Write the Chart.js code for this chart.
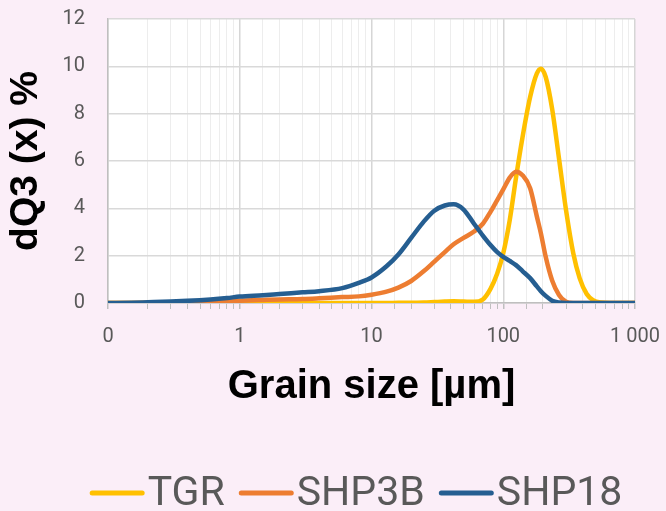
<!DOCTYPE html>
<html lang="en">
<head>
    <meta charset="UTF-8">
    <title>dQ3 grain size distribution</title>
    <script src="https://cdn.jsdelivr.net/npm/chart.js"></script>
    <style>
        html, body { margin: 0; padding: 0; background: #fbeef8; }
        canvas { display: block; }
    </style>
</head>
<body>
    <canvas id="psdChart" width="666" height="511"></canvas>
    <script>
        // grain sizes in µm (shared by all three samples)
        const sizes = [0.1, 0.15, 0.2, 0.3, 0.4, 0.6, 0.8, 1, 1.5, 2, 3, 4, 6, 8, 10, 13,
            16, 20, 25, 30, 36, 42, 50, 60, 70, 80, 90, 100, 112, 125, 140, 160, 180, 193,
            210, 235, 265, 300, 340, 380, 430, 480, 550, 650, 800, 1000];

        const tgr = [0, 0, 0, 0, 0, 0, 0, 0, 0, 0, 0, 0, 0, 0, 0, 0,
            0.01, 0.01, 0.02, 0.04, 0.06, 0.07, 0.06, 0.05, 0.15, 0.6, 1.25, 2.1, 3.5, 5.3, 7.0, 8.7, 9.7, 9.9,
            9.55, 8.2, 6.1, 3.9, 2.1, 1.05, 0.38, 0.12, 0.02, 0, 0, 0];

        const shp3b = [0, 0.005, 0.01, 0.02, 0.03, 0.05, 0.08, 0.1, 0.13, 0.15, 0.17, 0.2, 0.25, 0.28, 0.35, 0.48,
            0.65, 0.93, 1.35, 1.75, 2.15, 2.48, 2.75, 3.02, 3.35, 3.85, 4.35, 4.8, 5.3, 5.55, 5.4, 4.85, 3.65, 2.95,
            1.95, 0.95, 0.34, 0.05, 0, 0, 0, 0, 0, 0, 0, 0];

        const shp18 = [0, 0.01, 0.03, 0.06, 0.09, 0.15, 0.21, 0.27, 0.33, 0.38, 0.45, 0.5, 0.63, 0.85, 1.08, 1.55,
            2.05, 2.75, 3.45, 3.9, 4.12, 4.17, 3.95, 3.35, 2.85, 2.45, 2.15, 1.95, 1.78, 1.6, 1.35, 1.05, 0.7, 0.5,
            0.3, 0.1, 0.02, 0, 0, 0, 0, 0, 0, 0, 0, 0];

        const seriesNames = ['TGR', 'SHP3B', 'SHP18'];
        const seriesColors = ['#ffc000', '#ed7d31', '#255e91'];
        const seriesValues = [tgr, shp3b, shp18];

        const yTicks = [0, 2, 4, 6, 8, 10, 12];

        const isDecade = v => Math.abs(Math.log10(v) - Math.round(Math.log10(v))) < 1e-9;

        function decadeLabel(v) {
            if (v < 1) return '0';
            return Math.round(v).toString().replace(/\B(?=(\d{3})+(?!\d))/g, ' ');
        }

        const backdrop = {
            id: 'backdrop',
            beforeDraw(chart) {
                const { ctx, chartArea } = chart;
                ctx.save();
                ctx.fillStyle = '#fbeef8';
                ctx.fillRect(0, 0, chart.width, chart.height);
                ctx.fillStyle = '#ffffff';
                ctx.fillRect(chartArea.left, chartArea.top, chartArea.right - chartArea.left, chartArea.bottom - chartArea.top);
                ctx.restore();
            }
        };

        // legend drawn by hand: line sample sits right next to the text like in Excel
        const lineLegend = {
            id: 'lineLegend',
            afterDraw(chart) {
                const ctx = chart.ctx;
                const lineLen = 55, gap = 3, itemGap = 14;
                ctx.save();
                ctx.font = '41px Roboto';
                const widths = seriesNames.map(n => ctx.measureText(n).width);
                let total = 0;
                widths.forEach((w, i) => { total += lineLen + gap + w + (i ? itemGap : 0); });
                let x = 356 - total / 2;
                const yLine = 493, yText = 505;
                seriesNames.forEach((name, i) => {
                    ctx.strokeStyle = seriesColors[i];
                    ctx.lineWidth = 5;
                    ctx.lineCap = 'round';
                    ctx.beginPath();
                    ctx.moveTo(x + 2.5, yLine);
                    ctx.lineTo(x + lineLen - 2.5, yLine);
                    ctx.stroke();
                    ctx.fillStyle = '#595959';
                    ctx.textBaseline = 'alphabetic';
                    ctx.textAlign = 'left';
                    ctx.fillText(name, x + lineLen + gap, yText);
                    x += lineLen + gap + widths[i] + itemGap;
                });
                ctx.restore();
            }
        };

        const ctx = document.getElementById('psdChart').getContext('2d');

        new Chart(ctx, {
            type: 'line',
            data: {
                datasets: seriesNames.map((name, i) => ({
                    label: name,
                    data: sizes.map((s, j) => ({ x: s, y: seriesValues[i][j] })),
                    borderColor: seriesColors[i],
                    backgroundColor: seriesColors[i],
                    borderWidth: 4.5,
                    pointRadius: 0,
                    cubicInterpolationMode: 'monotone',
                    order: 3 - i
                }))
            },
            options: {
                responsive: false,
                animation: false,
                devicePixelRatio: 1,
                layout: {
                    padding: { left: 0, right: 31, top: 19, bottom: 100 }
                },
                plugins: {
                    legend: { display: false },
                    tooltip: { enabled: false }
                },
                scales: {
                    x: {
                        type: 'logarithmic',
                        min: 0.1,
                        max: 1000,
                        afterFit(scale) {
                            scale.height = 108;
                            scale.paddingLeft = 0;
                            scale.paddingRight = 0;
                        },
                        border: { color: '#bfbfbf', width: 1.5 },
                        grid: {
                            color: c => (c.tick && isDecade(c.tick.value)) ? '#d6d6d6' : '#ededed',
                            lineWidth: c => (c.tick && isDecade(c.tick.value)) ? 1.5 : 1,
                            tickColor: '#bfbfbf',
                            tickLength: 6
                        },
                        ticks: {
                            autoSkip: false,
                            maxRotation: 0,
                            padding: 16,
                            color: '#595959',
                            font: { family: 'Roboto', size: 20 },
                            callback: v => isDecade(v) ? decadeLabel(v) : ''
                        },
                        title: {
                            display: true,
                            text: 'Grain size [µm]',
                            color: '#000000',
                            font: { family: '"Liberation Sans", Arial, sans-serif', size: 40, weight: 'bold' },
                            padding: { top: 0, bottom: 0 }
                        }
                    },
                    y: {
                        min: 0,
                        max: 12,
                        afterFit(scale) {
                            scale.width = 108;
                            scale.paddingTop = 0;
                            scale.paddingBottom = 0;
                        },
                        afterBuildTicks(scale) { scale.ticks = yTicks.map(v => ({ value: v })); },
                        border: { color: '#bfbfbf', width: 1.5 },
                        grid: {
                            color: '#d9d9d9',
                            lineWidth: 1.5,
                            drawTicks: false
                        },
                        ticks: {
                            padding: 23,
                            color: '#595959',
                            font: { family: 'Roboto', size: 20 }
                        },
                        title: {
                            display: true,
                            text: 'dQ3 (x) %',
                            color: '#000000',
                            font: { family: '"Liberation Sans", Arial, sans-serif', size: 39, weight: 'bold' },
                            padding: { top: 3, bottom: 0 }
                        }
                    }
                }
            },
            plugins: [backdrop, lineLegend]
        });
    </script>
</body>
</html>
